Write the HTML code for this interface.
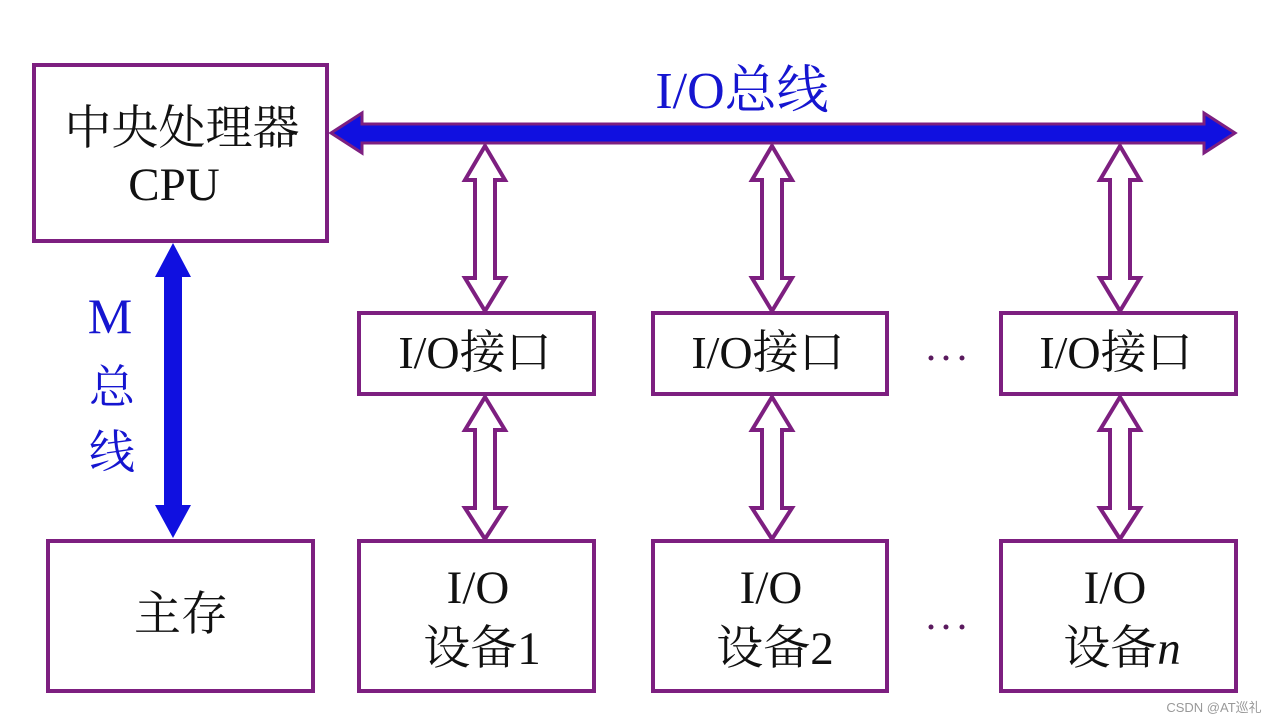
<!DOCTYPE html>
<html><head><meta charset="utf-8"><style>
html,body{margin:0;padding:0;background:#fff;}
svg{display:block;}
text{font-family:"Liberation Serif","Noto Serif CJK SC",serif;}
</style></head><body>
<svg width="1271" height="724" viewBox="0 0 1271 724" xmlns="http://www.w3.org/2000/svg">
<g fill="#fff" stroke="#7d1f80" stroke-width="4">
<rect x="34" y="65" width="293" height="176"/>
<rect x="48" y="541" width="265" height="150"/>
<rect x="359" y="313" width="235" height="81"/>
<rect x="653" y="313" width="234" height="81"/>
<rect x="1001" y="313" width="235" height="81"/>
<rect x="359" y="541" width="235" height="150"/>
<rect x="653" y="541" width="234" height="150"/>
<rect x="1001" y="541" width="235" height="150"/>
</g>
<path d="M331,133 L362,113 L362,124 L1204,124 L1204,113 L1235,133 L1204,153 L1204,143 L362,143 L362,153 Z" fill="#1010e0" stroke="#7d1f80" stroke-width="3"/>
<path d="M173,243 L191,277 L182,277 L182,505 L191,505 L173,538 L155,505 L164,505 L164,277 L155,277 Z" fill="#1010e0"/>
<g fill="#fff" stroke="#7d1f80" stroke-width="4" stroke-linejoin="miter">
<path d="M485,146 L505,180 L495,180 L495,278 L505,278 L485,311 L465,278 L475,278 L475,180 L465,180 Z"/>
<path d="M772,146 L792,180 L782,180 L782,278 L792,278 L772,311 L752,278 L762,278 L762,180 L752,180 Z"/>
<path d="M1120,146 L1140,180 L1130,180 L1130,278 L1140,278 L1120,311 L1100,278 L1110,278 L1110,180 L1100,180 Z"/>
<path d="M485,397 L505,430 L495,430 L495,508 L505,508 L485,539 L465,508 L475,508 L475,430 L465,430 Z"/>
<path d="M772,397 L792,430 L782,430 L782,508 L792,508 L772,539 L752,508 L762,508 L762,430 L752,430 Z"/>
<path d="M1120,397 L1140,430 L1130,430 L1130,508 L1140,508 L1120,539 L1100,508 L1110,508 L1110,430 L1100,430 Z"/>
</g>
<g fill="#5a1a5e">
<circle cx="931" cy="358" r="2.5"/><circle cx="946" cy="358" r="2.5"/><circle cx="962" cy="358" r="2.5"/>
<circle cx="931" cy="627" r="2.5"/><circle cx="946" cy="627" r="2.5"/><circle cx="962" cy="627" r="2.5"/>
</g>
<g fill="#111" font-size="47" text-anchor="middle">
<text x="182" y="144">中央处理器</text>
<text x="174" y="200">CPU</text>
<text x="181" y="630">主存</text>
<text x="475" y="368" font-size="46">I/O接口</text>
<text x="768" y="368" font-size="46">I/O接口</text>
<text x="1116" y="368" font-size="46">I/O接口</text>
<text x="478" y="603">I/O</text>
<text x="482" y="664">设备1</text>
<text x="771" y="603">I/O</text>
<text x="775" y="664">设备2</text>
<text x="1115" y="603">I/O</text>
<text x="1122" y="664">设备<tspan font-style="italic">n</tspan></text>
</g>
<g fill="#1515d0" font-size="52" text-anchor="middle">
<text x="742" y="108">I/O总线</text>
<text x="110" y="333" font-size="50">M</text>
<text x="112" y="403" font-size="46">总</text>
<text x="112" y="468" font-size="46">线</text>
</g>
<text x="1214" y="712" font-size="13" fill="#999" text-anchor="middle" style="font-family:'Liberation Sans','Noto Sans CJK SC',sans-serif">CSDN @AT巡礼</text>
</svg>
</body></html>
